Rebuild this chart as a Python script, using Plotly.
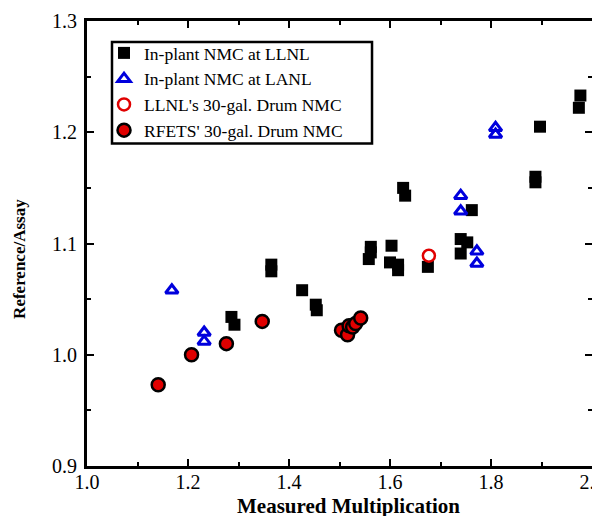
import plotly.graph_objects as go

# In-plant NMC at LLNL (black squares)
llnl_x = [1.286, 1.292, 1.365, 1.365, 1.426, 1.453, 1.455, 1.562, 1.562, 1.558,
          1.603, 1.600, 1.616, 1.616, 1.626, 1.630, 1.675, 1.740, 1.753, 1.740,
          1.762, 1.888, 1.888, 1.897, 1.977, 1.974]
llnl_y = [1.034, 1.027, 1.081, 1.075, 1.058, 1.045, 1.040, 1.097, 1.092, 1.086,
          1.098, 1.083, 1.081, 1.076, 1.150, 1.143, 1.079, 1.104, 1.101, 1.091,
          1.130, 1.160, 1.155, 1.205, 1.233, 1.222]

# In-plant NMC at LANL (blue open triangles)
lanl_x = [1.168, 1.232, 1.232, 1.740, 1.740, 1.772, 1.772, 1.809, 1.809]
lanl_y = [1.058, 1.020, 1.012, 1.143, 1.129, 1.093, 1.082, 1.204, 1.198]

# LLNL's 30-gal. Drum NMC (red open circle)
drum_llnl_x = [1.677]
drum_llnl_y = [1.089]

# RFETS' 30-gal. Drum NMC (red filled circles)
rfets_x = [1.141, 1.207, 1.276, 1.347, 1.504, 1.516, 1.519, 1.526, 1.532, 1.542]
rfets_y = [0.973, 1.000, 1.010, 1.030, 1.022, 1.018, 1.026, 1.025, 1.028, 1.033]

names = ["In-plant NMC at LLNL", "In-plant NMC at LANL",
         "LLNL's 30-gal. Drum NMC", "RFETS' 30-gal. Drum NMC"]
x_title = "Measured Multiplication"
y_title = "Reference/Assay"

SERIF = "Liberation Serif"
RED = "#e00000"
BLUE = "#0000dd"

fig = go.Figure()
fig.add_trace(go.Scatter(x=llnl_x, y=llnl_y, mode="markers", name=names[0],
                         marker=dict(symbol="square", size=12, color="black",
                                     line=dict(width=0))))
fig.add_trace(go.Scatter(x=lanl_x, y=lanl_y, mode="markers", name=names[1],
                         marker=dict(symbol="triangle-up-open", size=11, color=BLUE,
                                     line=dict(width=3, color=BLUE))))
fig.add_trace(go.Scatter(x=drum_llnl_x, y=drum_llnl_y, mode="markers", name=names[2],
                         marker=dict(symbol="circle-open", size=12, color=RED,
                                     line=dict(width=2.5, color=RED))))
fig.add_trace(go.Scatter(x=rfets_x, y=rfets_y, mode="markers", name=names[3],
                         marker=dict(symbol="circle", size=13, color=RED,
                                     line=dict(width=2.5, color="black"))))

axis_common = dict(
    showgrid=False, zeroline=False, automargin=False,
    showline=True, linecolor="black", linewidth=3, mirror="ticks",
    ticks="inside", ticklen=7, tickwidth=2, tickcolor="black",
    ticklabeloverflow="allow",
    tickfont=dict(family=SERIF, size=20, color="black"),
)

fig.update_xaxes(range=[1.0, 2.0], dtick=0.2, tick0=1.0, tickformat=".1f",
                 minor=dict(ticks="inside", ticklen=4, tickwidth=2, dtick=0.1,
                            tickcolor="black", showgrid=False),
                 ticklabelstandoff=-4,
                 **axis_common)
fig.update_yaxes(range=[0.9, 1.3], dtick=0.1, tick0=0.9, tickformat=".1f",
                 minor=dict(ticks="inside", ticklen=4, tickwidth=2, dtick=0.05,
                            tickcolor="black", showgrid=False),
                 ticklabelstandoff=3,
                 **axis_common)

fig.add_annotation(text="<b>" + x_title + "</b>", xref="paper", yref="paper",
                   x=0.517, y=-0.0585, xanchor="center", yanchor="top",
                   showarrow=False,
                   font=dict(family=SERIF, size=21, color="black"))
fig.add_annotation(text="<b>" + y_title + "</b>", xref="paper", yref="paper",
                   x=-0.135, y=0.465, xanchor="center", yanchor="middle",
                   textangle=-90, showarrow=False,
                   font=dict(family=SERIF, size=17, color="black"))

# legend frame
fig.add_shape(type="rect", xref="paper", yref="paper",
              x0=0.0495, x1=0.5644, y0=0.7247, y1=0.9528,
              line=dict(color="black", width=2.5), fillcolor="white",
              layer="below")

fig.update_layout(
    width=592, height=508,
    margin=dict(l=79, r=8, t=13, b=50),
    paper_bgcolor="white", plot_bgcolor="white",
    showlegend=True,
    legend=dict(x=0.0337, y=0.9685, xanchor="left", yanchor="top",
                bgcolor="rgba(0,0,0,0)", borderwidth=0,
                font=dict(family=SERIF, size=17.5, color="black"),
                tracegroupgap=0, itemwidth=30),
)

fig.write_html("out.html")
